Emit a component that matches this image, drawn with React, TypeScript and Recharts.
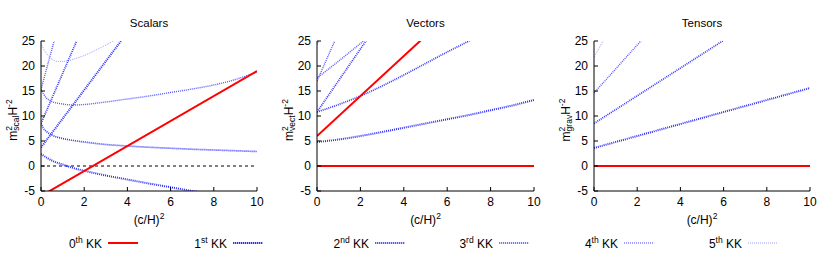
import React from 'react';
import { LineChart, Line, XAxis, YAxis, ReferenceLine } from 'recharts';

type Pt = [number, number];

const X_TICKS = [0, 2, 4, 6, 8, 10];
const Y_TICKS = [-5, 0, 5, 10, 15, 20, 25];
const KK_NAMES: [string, string][] = [['0', 'th'], ['1', 'st'], ['2', 'nd'], ['3', 'rd'], ['4', 'th'], ['5', 'th']];
const TITLES = ['Scalars', 'Vectors', 'Tensors'];

// Scalars
const SCAL_KK0: Pt[] = [[0, -6], [10, 19]];
const SCAL_KK1_DOWN: Pt[] = [[0, 2.4], [0.25, 1.7], [0.5, 1.1], [1, 0.3], [1.5, -0.4], [2, -0.95], [3, -1.9], [4, -2.7], [5, -3.5], [6, -4.25], [7, -5.0], [8, -5.75]];
const SCAL_KK1_UP: Pt[] = [[0, 3.7], [4, 26.7]];
const SCAL_KK2_DOWN: Pt[] = [[0, 8.5], [0.1, 7.6], [0.25, 6.9], [0.5, 6.2], [1, 5.5], [1.5, 5.1], [2, 4.8], [3, 4.3], [4, 4.0], [5, 3.75], [6, 3.55], [7, 3.35], [8, 3.2], [9, 3.05], [10, 2.9]];
const SCAL_KK2_UP: Pt[] = [[0, 8.5], [2, 28.5]];
const SCAL_KK3_DOWN: Pt[] = [[0, 15.3], [0.25, 13.6], [0.5, 12.9], [1, 12.4], [1.5, 12.2], [2, 12.3], [3, 12.8], [4, 13.4], [5, 14.0], [6, 14.7], [7, 15.4], [8, 16.2], [9, 17.3], [10, 18.8]];
const SCAL_KK3_UP: Pt[] = [[0, 15.3], [1, 31.3]];
const SCAL_KK5: Pt[] = [[0, 24.5], [0.25, 22.5], [0.5, 21.4], [0.8, 20.9], [1.2, 21.0], [1.6, 21.5], [2, 22.1], [2.5, 23.1], [3, 24.2], [3.5, 25.4]];

// Vectors
const VECT_KK0_FLAT: Pt[] = [[0, 0], [10, 0]];
const VECT_KK0_UP: Pt[] = [[0, 6], [5, 26]];
const VECT_KK1: Pt[] = [[0, 4.8], [1, 5.3], [2, 6.0], [3, 6.8], [4, 7.65], [5, 8.5], [6, 9.35], [7, 10.2], [8, 11.15], [9, 12.1], [10, 13.2]];
const VECT_KK2_A: Pt[] = [[0, 10.8], [1, 12.3], [2, 14.0], [3, 16.0], [4, 18.2], [5, 20.5], [6, 22.8], [7, 25.0], [8, 27.3]];
const VECT_KK2_B: Pt[] = [[0, 10.8], [3, 29.7]];
const VECT_KK3_A: Pt[] = [[0, 17.6], [1, 21.0], [2, 24.5], [3, 28.0]];
const VECT_KK3_B: Pt[] = [[0, 17.0], [1, 26.8]];
const VECT_KK4: Pt[] = [[0, 24.3], [1, 33.0]];

// Tensors
const TENS_KK0: Pt[] = [[0, 0], [10, 0]];
const TENS_KK1: Pt[] = [[0, 3.6], [2, 6.0], [4, 8.4], [6, 10.8], [8, 13.2], [10, 15.6]];
const TENS_KK2: Pt[] = [[0, 8.5], [7, 27.9]];
const TENS_KK3: Pt[] = [[0, 14.6], [3, 29.0]];
const TENS_KK5: Pt[] = [[0, 21.8], [1, 29.4]];

const KK_STYLE = [
  { color: '#ff0000', halo: '#ff8080', width: 2, dash: undefined as string | undefined },
  { color: '#2a2aff', halo: '#b4b4ff', width: 2, dash: '1 1' },
  { color: '#3636ff', halo: '#bcbcff', width: 1.7, dash: '1 1' },
  { color: '#5858ff', halo: '#d0d0ff', width: 1.4, dash: '1 1' },
  { color: '#4040ff', halo: '#ffffff', width: 1, dash: '1 1' },
  { color: '#a0a0ff', halo: '#ffffff', width: 1, dash: '1 1' },
];

const LEGEND_X = [108, 233, 375, 499, 624, 748];
const TITLE_X = [149, 425.5, 702];

const FONT = '"Liberation Sans", Arial, Helvetica, sans-serif';

interface Curve { kk: number; pts: Pt[] }

const bottomTick = (p: any) => (
  <g>
    <line x1={p.x} y1={p.y} x2={p.x} y2={p.y - 4} stroke="#000" />
    <text x={p.x} y={p.y + 15} textAnchor="middle" fontSize={12} fontFamily={FONT} fill="#000">{p.payload.value}</text>
  </g>
);
const leftTick = (p: any) => (
  <g>
    <line x1={p.x} y1={p.y} x2={p.x + 4} y2={p.y} stroke="#000" />
    <text x={p.x - 6} y={p.y + 4} textAnchor="end" fontSize={12} fontFamily={FONT} fill="#000">{p.payload.value}</text>
  </g>
);
const topTick = (p: any) => <line x1={p.x} y1={p.y} x2={p.x} y2={p.y + 4} stroke="#000" />;
const rightTick = (p: any) => <line x1={p.x} y1={p.y} x2={p.x - 4} y2={p.y} stroke="#000" />;

interface PanelProps {
  left: number;
  width: number;
  sub: string;
  curves: Curve[];
  zeroDashed?: boolean;
}

const Panel: React.FC<PanelProps> = ({ left, width, sub, curves, zeroDashed }) => (
  <div style={{ position: 'absolute', left, top: 0 }}>
    <LineChart width={width} height={230} margin={{ top: 41, right: 18, bottom: 0, left: 0 }}>
      <XAxis
        dataKey="x"
        type="number"
        domain={[0, 10]}
        ticks={X_TICKS}
        interval={0}
        allowDataOverflow
        height={39}
        tickSize={0}
        tickMargin={0}
        tickLine={false}
        axisLine={{ stroke: '#000' }}
        tick={bottomTick}
        label={(props: any) => {
          const vb = props.viewBox;
          return (
            <text x={vb.x + vb.width / 2} y={vb.y + 33} textAnchor="middle" fontSize={12} fontFamily={FONT} fill="#000">
              (c/H)<tspan dy={-5} fontSize={8.5}>2</tspan>
            </text>
          );
        }}
      />
      <XAxis
        xAxisId="top"
        orientation="top"
        type="number"
        domain={[0, 10]}
        ticks={X_TICKS}
        interval={0}
        height={0}
        tickSize={0}
        tickMargin={0}
        tickLine={false}
        axisLine={{ stroke: '#000' }}
        tick={topTick}
      />
      <YAxis
        type="number"
        domain={[-5, 25]}
        ticks={Y_TICKS}
        interval={0}
        allowDataOverflow
        width={41}
        tickSize={0}
        tickMargin={0}
        tickLine={false}
        axisLine={{ stroke: '#000' }}
        tick={leftTick}
        label={(props: any) => {
          const vb = props.viewBox;
          const bx = vb.x + vb.width - 24;
          const cy = vb.y + vb.height / 2 + 4;
          return (
            <text x={bx} y={cy} transform={`rotate(-90 ${bx} ${cy})`} textAnchor="middle" fontSize={12} fontFamily={FONT} fill="#000">
              m
              <tspan dy={-5} fontSize={8.5}>2</tspan>
              <tspan dx={-4.7} dy={7} fontSize={8.5}>{sub}</tspan>
              <tspan dy={-2} fontSize={12}>H</tspan>
              <tspan dy={-5} fontSize={8.5}>-2</tspan>
            </text>
          );
        }}
      />
      <YAxis
        yAxisId="right"
        orientation="right"
        type="number"
        domain={[-5, 25]}
        ticks={Y_TICKS}
        interval={0}
        width={0}
        tickSize={0}
        tickMargin={0}
        tickLine={false}
        axisLine={{ stroke: '#000' }}
        tick={rightTick}
      />
      {zeroDashed && <ReferenceLine y={0} stroke="#000" strokeWidth={1} strokeDasharray="3 3" />}
      {curves.map((c, i) => {
        const s = KK_STYLE[c.kk];
        return (
          <Line
            key={i}
            data={c.pts.map(([x, y]) => ({ x, y }))}
            dataKey="y"
            type="monotone"
            stroke={s.color}
            strokeWidth={s.width}
            strokeDasharray={s.dash}
            dot={false}
            activeDot={false}
            isAnimationActive={false}
          />
        );
      })}
    </LineChart>
  </div>
);

const Titles: React.FC = () => (
  <svg width={830} height={36} style={{ position: 'absolute', left: 0, top: 0 }}>
    {TITLES.map((t, i) => (
      <text key={t} x={TITLE_X[i]} y={27} textAnchor="middle" fontSize={11.5} fontFamily={FONT} fill="#000">{t}</text>
    ))}
  </svg>
);

const Legend: React.FC = () => (
  <svg width={830} height={24} style={{ position: 'absolute', left: 0, top: 230 }}>
    {KK_NAMES.map(([n, suf], i) => {
      const s = KK_STYLE[i];
      const x0 = LEGEND_X[i];
      return (
        <g key={i}>
          <text x={x0 - 6} y={17.5} textAnchor="end" fontSize={12} fontFamily={FONT} fill="#000">
            {n}
            <tspan dy={-5} fontSize={8.5}>{suf}</tspan>
            <tspan dy={5}> KK</tspan>
          </text>
          <line x1={x0} y1={13} x2={x0 + 30} y2={13} stroke={s.halo} strokeWidth={s.width} />
          <line x1={x0} y1={13} x2={x0 + 30} y2={13} stroke={s.color} strokeWidth={s.width} strokeDasharray={s.dash} />
        </g>
      );
    })}
  </svg>
);

const App: React.FC = () => {
  const scalars: Curve[] = [
    { kk: 5, pts: SCAL_KK5 },
    { kk: 3, pts: SCAL_KK3_DOWN },
    { kk: 3, pts: SCAL_KK3_UP },
    { kk: 2, pts: SCAL_KK2_DOWN },
    { kk: 2, pts: SCAL_KK2_UP },
    { kk: 1, pts: SCAL_KK1_DOWN },
    { kk: 1, pts: SCAL_KK1_UP },
    { kk: 0, pts: SCAL_KK0 },
  ];
  const vectors: Curve[] = [
    { kk: 4, pts: VECT_KK4 },
    { kk: 3, pts: VECT_KK3_A },
    { kk: 3, pts: VECT_KK3_B },
    { kk: 2, pts: VECT_KK2_A },
    { kk: 2, pts: VECT_KK2_B },
    { kk: 1, pts: VECT_KK1 },
    { kk: 0, pts: VECT_KK0_FLAT },
    { kk: 0, pts: VECT_KK0_UP },
  ];
  const tensors: Curve[] = [
    { kk: 5, pts: TENS_KK5 },
    { kk: 3, pts: TENS_KK3 },
    { kk: 2, pts: TENS_KK2 },
    { kk: 1, pts: TENS_KK1 },
    { kk: 0, pts: TENS_KK0 },
  ];
  return (
    <div style={{ position: 'absolute', left: 0, top: 0, width: 830, height: 258, background: '#fff', fontFamily: FONT }}>
      <Titles />
      <Panel left={0} width={275} sub="scal" curves={scalars} zeroDashed />
      <Panel left={276} width={276} sub="vect" curves={vectors} />
      <Panel left={553} width={275} sub="grav" curves={tensors} />
      <Legend />
    </div>
  );
};

export default App;
